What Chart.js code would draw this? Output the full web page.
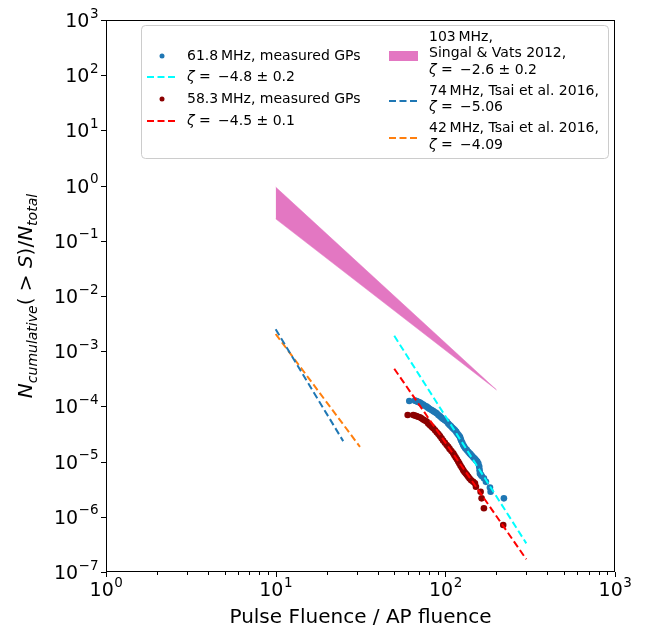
<!DOCTYPE html>
<html>
<head>
<meta charset="utf-8">
<script src="https://cdn.jsdelivr.net/npm/chart.js@4.4.1/dist/chart.umd.min.js"></script>
<style>
  html, body { margin: 0; padding: 0; background: #fff; }
  #wrap { width: 646px; height: 631px; }
</style>
</head>
<body>
<div id="wrap"><canvas id="fluenceChart" width="646" height="631"></canvas></div>
<script>
// axis ticks (decades) and minor x ticks
const xTicks = [1, 10, 100, 1000];
const yTicks = [1e-7, 1e-6, 1e-5, 1e-4, 1e-3, 1e-2, 1e-1, 1e0, 1e1, 1e2, 1e3];
const xMinorTicks = [2, 3, 4, 5, 6, 7, 8, 9, 20, 30, 40, 50, 60, 70, 80, 90, 200, 300, 400, 500, 600, 700, 800, 900];

// 61.8 MHz measured GPs
const gp618X = [61.3, 66.2, 67.5, 68.5, 69.6, 70.8, 72.3, 74, 75.8, 77.6, 79.3, 81, 83, 85, 87, 88.9, 91, 93, 95, 97, 99.4, 101.8, 104, 106, 108, 110, 112, 114, 116, 118, 120, 121.9, 123, 124, 125.8, 127.5, 129, 131, 133.7, 136.5, 139, 141, 143.5, 146, 148, 150, 152, 154.2, 156.5, 158.4, 159.2, 159.9, 162, 164, 168.8, 173.5, 183.2, 184.9, 221.4];
const gp618Y = [1.25e-4, 1.27e-4, 1.25e-4, 1.22e-4, 1.2e-4, 1.17e-4, 1.13e-4, 1.08e-4, 1.03e-4, 9.9e-5, 9.4e-5, 9.0e-5, 8.6e-5, 8.2e-5, 7.8e-5, 7.5e-5, 7.0e-5, 6.6e-5, 6.2e-5, 5.9e-5, 5.6e-5, 5.3e-5, 4.9e-5, 4.6e-5, 4.35e-5, 4.1e-5, 3.9e-5, 3.7e-5, 3.45e-5, 3.2e-5, 3.0e-5, 2.8e-5, 2.6e-5, 2.4e-5, 2.2e-5, 2.0e-5, 1.87e-5, 1.75e-5, 1.63e-5, 1.51e-5, 1.42e-5, 1.35e-5, 1.27e-5, 1.2e-5, 1.15e-5, 1.1e-5, 1.05e-5, 1.0e-5, 9.2e-6, 8.1e-6, 7.0e-6, 6.1e-6, 5.8e-6, 5.5e-6, 5.0e-6, 4.3e-6, 3.4e-6, 2.85e-6, 2.16e-6];

// 58.3 MHz measured GPs
const gp583X = [60, 64.7, 66, 67.5, 69, 70.8, 72.3, 74, 75.8, 77.6, 79.3, 81, 83, 84.9, 87, 89, 91, 92.9, 95, 97, 99.4, 101.8, 104, 106, 108.6, 111.3, 113, 115, 117, 119.1, 121, 123, 125.2, 127.5, 129.7, 132, 134.2, 136.5, 139, 142, 146, 149.4, 151.5, 161.4, 163.6, 168.8, 219.4];
const gp583Y = [7.0e-5, 7.0e-5, 6.85e-5, 6.7e-5, 6.5e-5, 6.35e-5, 6.1e-5, 5.8e-5, 5.55e-5, 5.3e-5, 4.9e-5, 4.6e-5, 4.3e-5, 4.0e-5, 3.7e-5, 3.4e-5, 3.15e-5, 2.9e-5, 2.65e-5, 2.4e-5, 2.2e-5, 2.0e-5, 1.85e-5, 1.7e-5, 1.55e-5, 1.41e-5, 1.3e-5, 1.2e-5, 1.1e-5, 1.0e-5, 9.2e-6, 8.4e-6, 7.7e-6, 7.0e-6, 6.5e-6, 6.1e-6, 5.7e-6, 5.3e-6, 4.95e-6, 4.6e-6, 4.3e-6, 4.05e-6, 3.5e-6, 2.85e-6, 2.16e-6, 1.43e-6, 7.1e-7];

// power-law fits (end points)
const fit618X = [50, 300];
const fit618Y = [1.9e-3, 3.3e-7];
const fit583X = [50, 300];
const fit583Y = [4.8e-4, 1.7e-7];
const tsai74X = [10, 25];
const tsai74Y = [2.5e-3, 2.35e-5];
const tsai42X = [10, 31.4];
const tsai42Y = [2.05e-3, 1.85e-5];

// Singal & Vats 2012 band (upper and lower edge)
const bandX = [10, 200];
const bandTop = [0.94, 2.0e-4];
const bandBottom = [0.25, 2.0e-4];

const BLUE = '#1f77b4', DARKRED = '#8b0000', CYAN = '#00ffff', RED = '#ff0000';
const ORANGE = '#ff7f0e', PINK = '#e377c2';
const FONT = '"DejaVu Sans", sans-serif';
const DASH = [7, 3.5];

function pts(xs, ys) {
  return xs.map((x, i) => ({ x: x, y: ys[i] }));
}

function dashed(data, color) {
  return {
    data: data, borderColor: color, borderWidth: 2, borderDash: DASH,
    pointRadius: 0, fill: false, order: 1
  };
}

function dots(data, color) {
  return {
    data: data, showLine: false, pointRadius: 3.3, pointBorderWidth: 0,
    pointBackgroundColor: color, borderColor: color, order: 2
  };
}

// draw "10^n"
function drawPow(ctx, exp, x, y, align) {
  const base = '10', sup = exp < 0 ? '\u2212' + (-exp) : String(exp);
  ctx.font = '19px ' + FONT;
  const wb = ctx.measureText(base).width;
  ctx.font = '13.5px ' + FONT;
  const ws = ctx.measureText(sup).width;
  const w = wb + ws;
  let x0 = align === 'center' ? x - w / 2 : x - w;
  ctx.textBaseline = 'middle';
  ctx.textAlign = 'left';
  ctx.font = '19px ' + FONT;
  ctx.fillText(base, x0, y);
  ctx.font = '13.5px ' + FONT;
  ctx.fillText(sup, x0 + wb + 0.5, y - 8);
}

// draw a run of [text, font, dy] pieces, returns end x
function drawRun(ctx, parts, x, y) {
  ctx.textAlign = 'left';
  ctx.textBaseline = 'middle';
  parts.forEach(p => {
    ctx.font = p[1];
    ctx.fillText(p[0], x, y + (p[2] || 0));
    x += ctx.measureText(p[0]).width;
  });
  return x;
}

function zeta(ctx, rest, x, y) {
  drawRun(ctx, [['\u03b6', 'italic 14px ' + FONT], [' = \u2009', '14px ' + FONT], [rest, '14px ' + FONT]], x, y);
}

const decor = {
  id: 'decor',
  afterDraw(chart) {
    const ctx = chart.ctx, a = chart.chartArea;
    const xs = chart.scales.x, ys = chart.scales.y;
    ctx.save();
    ctx.strokeStyle = '#000';
    ctx.fillStyle = '#000';
    ctx.lineWidth = 1;
    ctx.strokeRect(a.left + 0.5, a.top + 0.5, a.right - a.left - 1, a.bottom - a.top - 1);

    // tick marks
    ctx.beginPath();
    xTicks.forEach(v => {
      const px = Math.round(xs.getPixelForValue(v)) + 0.5;
      ctx.moveTo(px, a.bottom); ctx.lineTo(px, a.bottom + 5);
    });
    xMinorTicks.forEach(v => {
      const px = Math.round(xs.getPixelForValue(v)) + 0.5;
      ctx.moveTo(px, a.bottom); ctx.lineTo(px, a.bottom + 3);
    });
    yTicks.forEach(v => {
      const py = Math.round(ys.getPixelForValue(v)) + 0.5;
      ctx.moveTo(a.left, py); ctx.lineTo(a.left - 5, py);
    });
    ctx.stroke();

    xTicks.forEach(v => drawPow(ctx, Math.round(Math.log10(v)), xs.getPixelForValue(v), a.bottom + 19, 'center'));
    yTicks.forEach(v => drawPow(ctx, Math.round(Math.log10(v)), a.left - 8, ys.getPixelForValue(v) + 2, 'right'));

    // axis titles
    ctx.font = '20px ' + FONT;
    ctx.textAlign = 'center';
    ctx.textBaseline = 'middle';
    ctx.fillText('Pulse Fluence / AP fluence', (a.left + a.right) / 2, 618);

    ctx.save();
    ctx.translate(27, (a.top + a.bottom) / 2);
    ctx.rotate(-Math.PI / 2);
    const it = 'italic 20px ' + FONT, itS = 'italic 14px ' + FONT, up = '20px ' + FONT;
    const parts = [['N', it], ['cumulative', itS, 6], ['( > ', up], ['S', it], [')/', up], ['N', it], ['total', itS, 6]];
    let w = 0;
    parts.forEach(p => { ctx.font = p[1]; w += ctx.measureText(p[0]).width; });
    drawRun(ctx, parts, -w / 2, 0);
    ctx.restore();

    // legend
    const lx = 141, ly = 25, lw = 467, lh = 133;
    ctx.beginPath();
    ctx.roundRect(lx + 0.5, ly + 0.5, lw, lh, 4);
    ctx.fillStyle = 'rgba(255,255,255,0.8)';
    ctx.fill();
    ctx.strokeStyle = '#cccccc';
    ctx.stroke();

    function dashItem(x, y, color) {
      ctx.save();
      ctx.strokeStyle = color;
      ctx.lineWidth = 2;
      ctx.setLineDash(DASH);
      ctx.beginPath();
      ctx.moveTo(x, y); ctx.lineTo(x + 28, y);
      ctx.stroke();
      ctx.restore();
    }
    function dotItem(x, y, color) {
      ctx.fillStyle = color;
      ctx.beginPath();
      ctx.arc(x, y, 2.5, 0, Math.PI * 2);
      ctx.fill();
    }

    const f = '14px ' + FONT;
    dotItem(162, 56, BLUE);
    ctx.fillStyle = '#000';
    drawRun(ctx, [['61.8\u2009MHz, measured GPs', f]], 187, 56);
    dashItem(147, 77, CYAN);
    ctx.fillStyle = '#000';
    zeta(ctx, '\u22124.8 \u00b1 0.2', 187, 77);
    dotItem(162, 99, DARKRED);
    ctx.fillStyle = '#000';
    drawRun(ctx, [['58.3\u2009MHz, measured GPs', f]], 187, 99);
    dashItem(147, 121, RED);
    ctx.fillStyle = '#000';
    zeta(ctx, '\u22124.5 \u00b1 0.1', 187, 121);

    ctx.fillStyle = PINK;
    ctx.fillRect(389, 51, 29, 10);
    ctx.fillStyle = '#000';
    drawRun(ctx, [['103\u2009MHz,', f]], 429, 37);
    drawRun(ctx, [['Singal & Vats 2012,', f]], 429, 53);
    zeta(ctx, '\u22122.6 \u00b1 0.2', 429, 70);
    dashItem(389, 101, BLUE);
    ctx.fillStyle = '#000';
    drawRun(ctx, [['74\u2009MHz, Tsai et al. 2016,', f]], 429, 91);
    zeta(ctx, '\u22125.06', 429, 107);
    dashItem(389, 138, ORANGE);
    ctx.fillStyle = '#000';
    drawRun(ctx, [['42\u2009MHz, Tsai et al. 2016,', f]], 429, 128);
    zeta(ctx, '\u22124.09', 429, 145);

    ctx.restore();
  }
};

const chart = new Chart(document.getElementById('fluenceChart'), {
  type: 'line',
  data: {
    datasets: [
      dashed(pts(fit618X, fit618Y), CYAN),
      dashed(pts(fit583X, fit583Y), RED),
      dashed(pts(tsai74X, tsai74Y), BLUE),
      dashed(pts(tsai42X, tsai42Y), ORANGE),
      dots(pts(gp618X, gp618Y), BLUE),
      dots(pts(gp583X, gp583Y), DARKRED),
      {
        data: pts(bandX, bandTop), borderColor: PINK, borderWidth: 0.5,
        backgroundColor: PINK, pointRadius: 0, fill: '+1', order: 3
      },
      {
        data: pts(bandX, bandBottom), borderColor: PINK, borderWidth: 0.5,
        pointRadius: 0, fill: false, order: 3
      }
    ]
  },
  options: {
    responsive: false,
    animation: false,
    layout: { padding: { top: 20, right: 31, left: 0, bottom: 0 } },
    plugins: { legend: { display: false }, tooltip: { enabled: false } },
    scales: {
      x: {
        type: 'logarithmic', min: 1, max: 1000,
        grid: { display: false }, border: { display: false },
        ticks: { display: false },
        afterFit(scale) { scale.height = 59; }
      },
      y: {
        type: 'logarithmic', min: 1e-7, max: 1e3,
        grid: { display: false }, border: { display: false },
        ticks: { display: false },
        afterFit(scale) { scale.width = 106; }
      }
    }
  },
  plugins: [decor]
});
</script>
</body>
</html>
